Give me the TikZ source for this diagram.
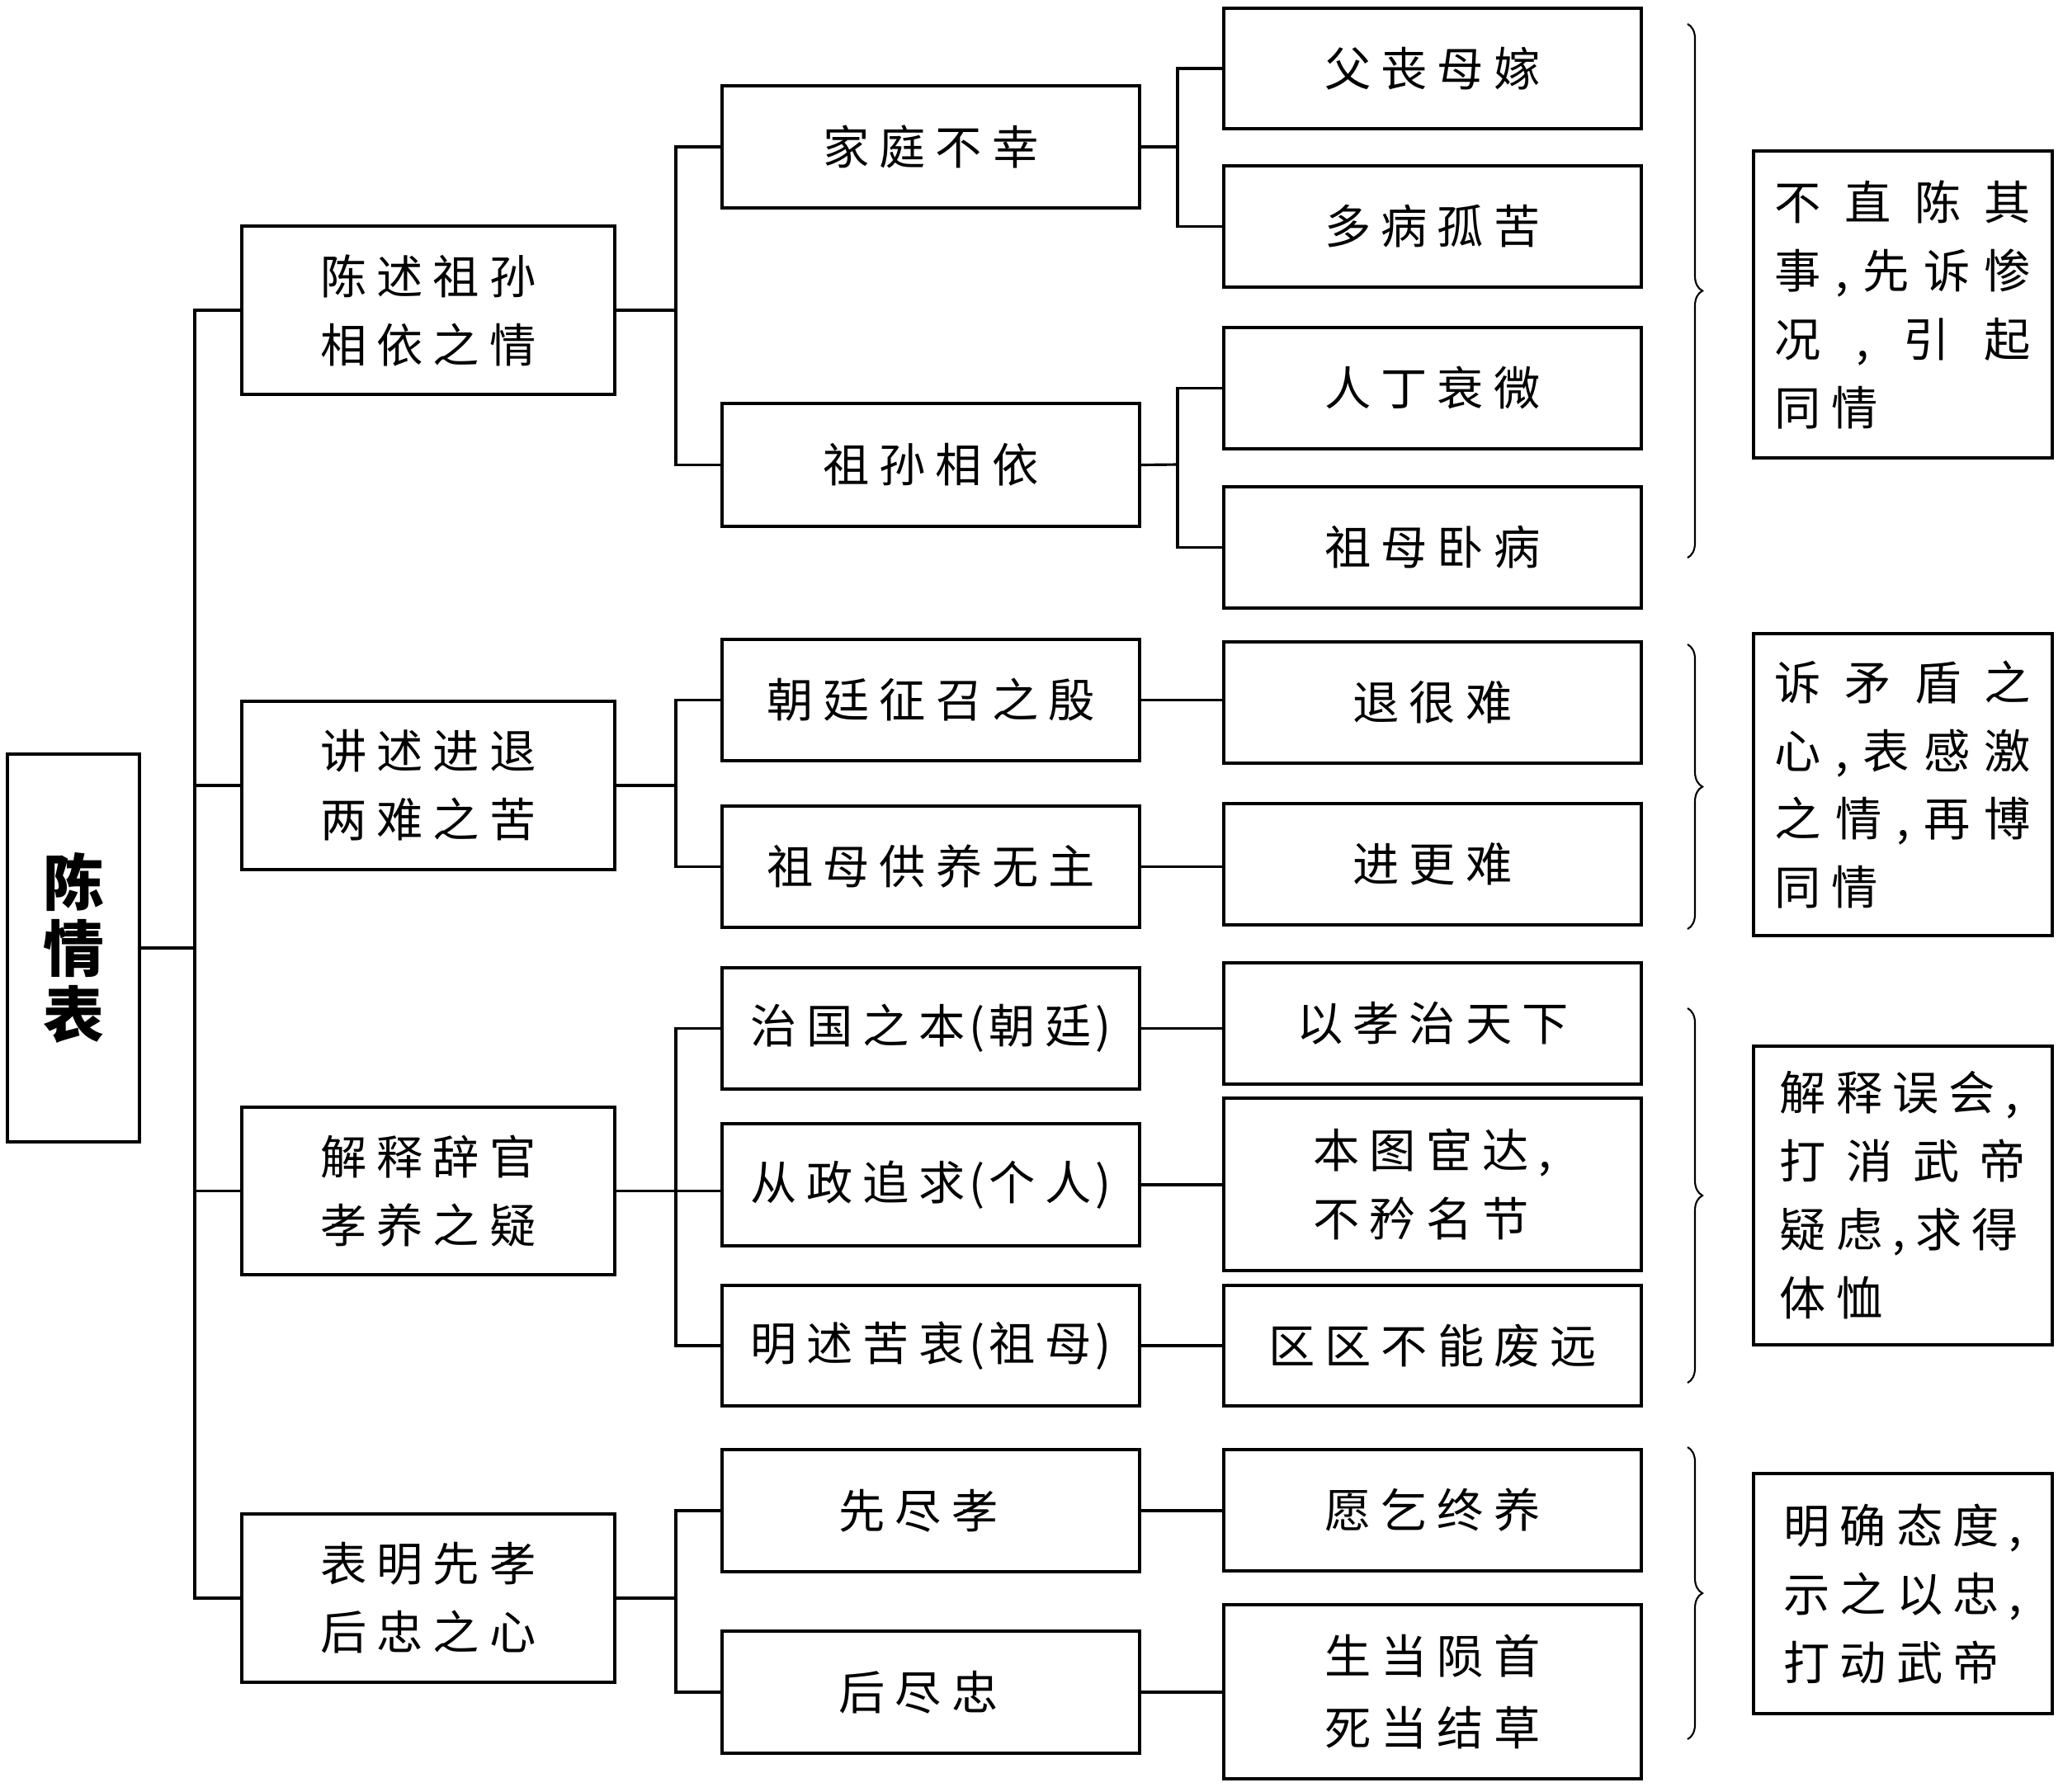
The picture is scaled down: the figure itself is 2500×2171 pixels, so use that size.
\documentclass[tikz,border=0pt]{standalone}
\usepackage{fontspec}
\newfontfamily\cjk{Noto Sans CJK SC}
\usetikzlibrary{decorations.pathreplacing}
\newlength\chargap \setlength\chargap{0.12cm}
\makeatletter
\newcommand\spc[1]{\spc@a#1\spc@end}
\def\spc@a#1#2\spc@end{#1\ifx\relax#2\relax\else\hspace{\chargap}\spc@a#2\spc@end\fi}
\makeatother
\newcommand\paren[2]{\spc{#1}\hspace{0.04cm}(\hspace{0.05cm}\spc{#2}\hspace{0.05cm})}
\newcommand\bx[7][]{\node[box,#1,minimum width={(#5-#3)*0.01cm},minimum height={(#6-#4)*0.01cm}] (#2) at ({(#3+#5)/2},{(#4+#6)/2}) {#7};}
\tikzset{
  box/.style={draw, line width=0.9pt, inner sep=0pt, outer sep=0pt, align=center,
    font=\cjk\fontsize{16pt}{23.6pt}\selectfont},
  conn/.style={line width=0.9pt},
  brc/.style={line width=0.6pt, decorate, decoration={brace, amplitude=0.18cm}},
  rootbox/.style={font=\cjk\bfseries\fontsize{21pt}{22.7pt}\selectfont}
}
\begin{document}
\begin{tikzpicture}[x=0.01cm, y=-0.01cm]
\useasboundingbox (0,0) rectangle (2500,2171);
% root
\bx[rootbox]{root}{9}{914}{169}{1384}{陈\\情\\表}
% level 1
\bx{b1}{293}{274}{745}{478}{\spc{陈述祖孙}\\\spc{相依之情}}
\bx{b2}{293}{850}{745}{1054}{\spc{讲述进退}\\\spc{两难之苦}}
\bx{b3}{293}{1342}{745}{1545}{\spc{解释辞官}\\\spc{孝养之疑}}
\bx{b4}{293}{1835}{745}{2039}{\spc{表明先孝}\\\spc{后忠之心}}
% level 2
\bx{c11}{875}{104}{1381}{252}{\spc{家庭不幸}}
\bx{c12}{875}{489}{1381}{638}{\spc{祖孙相依}}
\bx{c21}{875}{775}{1381}{922}{\spc{朝廷征召之殷}}
\bx{c22}{875}{977}{1381}{1124}{\spc{祖母供养无主}}
\bx{c31}{875}{1173}{1381}{1320}{\paren{治国之本}{朝廷}}
\bx{c32}{875}{1362}{1381}{1510}{\paren{从政追求}{个人}}
\bx{c33}{875}{1558}{1381}{1704}{\paren{明述苦衷}{祖母}}
\bx{c41}{875}{1757}{1381}{1905}{\spc{先尽孝}\hspace{0.3cm}}
\bx{c42}{875}{1977}{1381}{2125}{\spc{后尽忠}\hspace{0.3cm}}
% level 3
\bx{d11}{1483}{10}{1989}{156}{\spc{父丧母嫁}}
\bx{d12}{1483}{201}{1989}{348}{\spc{多病孤苦}}
\bx{d13}{1483}{397}{1989}{544}{\spc{人丁衰微}}
\bx{d14}{1483}{590}{1989}{737}{\spc{祖母卧病}}
\bx{d21}{1483}{778}{1989}{925}{\spc{退很难}}
\bx{d22}{1483}{974}{1989}{1121}{\spc{进更难}}
\bx{d31}{1483}{1167}{1989}{1314}{\spc{以孝治天下}}
\bx[align=left]{d32}{1483}{1331}{1989}{1540}{\spc{本图宦达,}\\\spc{不矜名节}}
\bx{d33}{1483}{1558}{1989}{1704}{\spc{区区不能废远}}
\bx{d41}{1483}{1757}{1989}{1904}{\spc{愿乞终养}}
\bx[font=\cjk\fontsize{16pt}{24.7pt}\selectfont]{d42}{1483}{1945}{1989}{2156}{\spc{生当陨首}\\\spc{死当结草}}
% right boxes
\bx[align=left]{r1}{2125}{183}{2487}{555}{\makebox[3.1cm][s]{不\hfill 直\hfill 陈\hfill 其}\\\makebox[3.1cm][s]{事\hfill,\hfill 先\hfill 诉\hfill 惨}\\\makebox[3.1cm][s]{况\hfill,\hfill 引\hfill 起}\\\spc{同情}}
\bx[align=left]{r2}{2125}{768}{2487}{1134}{\makebox[3.1cm][s]{诉\hfill 矛\hfill 盾\hfill 之}\\\makebox[3.1cm][s]{心\hfill,\hfill 表\hfill 感\hfill 激}\\\makebox[3.1cm][s]{之\hfill 情\hfill,\hfill 再\hfill 博}\\\spc{同情}}
\bx[align=left]{r3}{2125}{1268}{2487}{1630}{\spc{解释误会,}\\\makebox[2.98cm][s]{打\hfill 消\hfill 武\hfill 帝}\\\spc{疑虑,求得}\\\spc{体恤}}
\bx[align=left]{r4}{2125}{1786}{2487}{2077}{\spc{明确态度,}\\\spc{示之以忠,}\\\spc{打动武帝}}
% connectors root -> level 1
\coordinate (t0) at (236,1149);
\draw[conn] (root.east) -- (t0);
\draw[conn] (b1.west) -| (t0) |- (b4.west);
\draw[conn] (t0 |- b2.west) -- (b2.west);
\draw[conn] (t0 |- b3.west) -- (b3.west);
% level 1 -> level 2
\coordinate (t1) at (819,376);
\draw[conn] (b1.east) -- (t1);
\draw[conn] (c11.west) -| (t1) |- (c12.west);
\coordinate (t2) at (819,952);
\draw[conn] (b2.east) -- (t2);
\draw[conn] (c21.west) -| (t2) |- (c22.west);
\coordinate (t3) at (819,1444);
\draw[conn] (b3.east) -- (b3.east -| c32.west);
\draw[conn] (c31.west) -| (t3) |- (c33.west);
\coordinate (t4) at (819,1937);
\draw[conn] (b4.east) -- (t4);
\draw[conn] (c41.west) -| (t4) |- (c42.west);
% level 2 -> level 3
\coordinate (u1) at (1427,178);
\draw[conn] (c11.east) -- (u1);
\draw[conn] (d11.west) -| (u1) |- (d12.west);
\coordinate (u2) at (1427,563);
\draw[conn] (c12.east) -- (u2);
\draw[conn] (d13.west) -| (u2) |- (d14.west);
\draw[conn] (c21.east) -- (c21.east -| d21.west);
\draw[conn] (c22.east) -- (c22.east -| d22.west);
\draw[conn] (c31.east) -- (c31.east -| d31.west);
\draw[conn] (c32.east) -- (c32.east -| d32.west);
\draw[conn] (c33.east) -- (c33.east -| d33.west);
\draw[conn] (c41.east) -- (c41.east -| d41.west);
\draw[conn] (c42.east) -- (c42.east -| d42.west);
% braces
\draw[brc] (2045,29) -- (2045,676);
\draw[brc] (2045,781) -- (2045,1126);
\draw[brc] (2045,1222) -- (2045,1676);
\draw[brc] (2045,1754) -- (2045,2108);
\end{tikzpicture}
\end{document}
